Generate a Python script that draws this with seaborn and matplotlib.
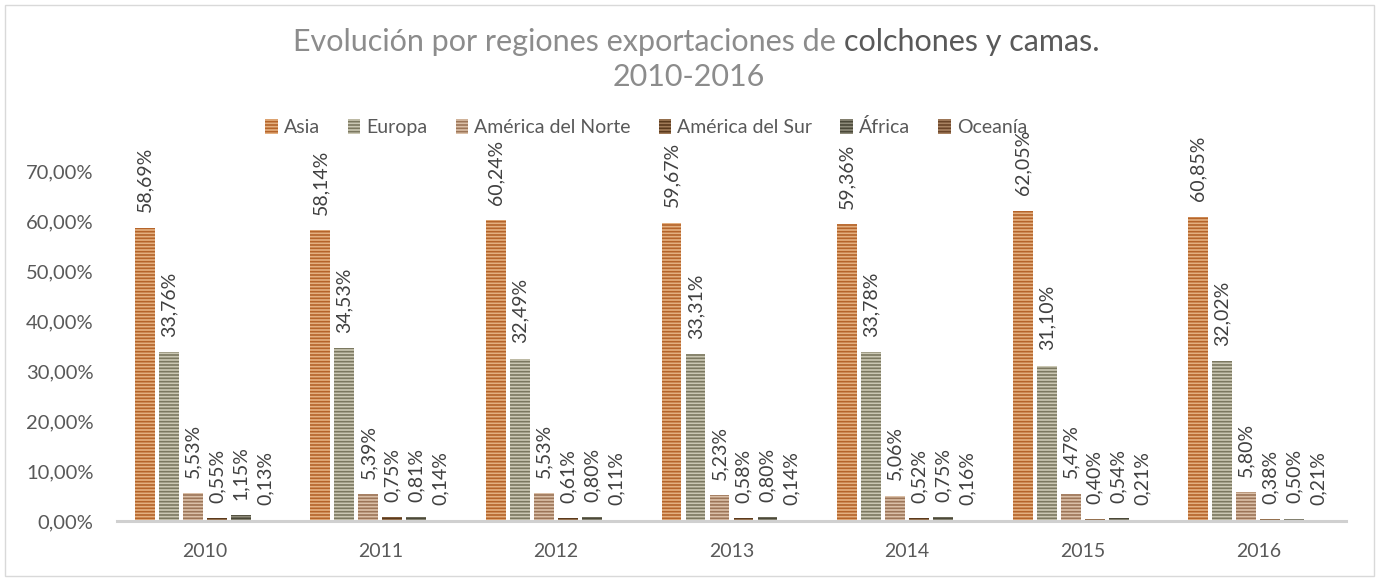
import matplotlib
matplotlib.use("Agg")
import matplotlib.pyplot as plt
import matplotlib.patches as mpatches
import pandas as pd
import seaborn as sns

years = ["2010", "2011", "2012", "2013", "2014", "2015", "2016"]
regions = ["Asia", "Europa", "América del Norte", "América del Sur", "África", "Oceanía"]

asia = [58.69, 58.14, 60.24, 59.67, 59.36, 62.05, 60.85]
europa = [33.76, 34.53, 32.49, 33.31, 33.78, 31.10, 32.02]
am_norte = [5.53, 5.39, 5.53, 5.23, 5.06, 5.47, 5.80]
am_sur = [0.55, 0.75, 0.61, 0.58, 0.52, 0.40, 0.38]
africa = [1.15, 0.81, 0.80, 0.80, 0.75, 0.54, 0.50]
oceania = [0.13, 0.14, 0.11, 0.14, 0.16, 0.21, 0.21]

# stripe (dark) and background (light) colour per region
dark = ["#B5642A", "#7B7860", "#9C7558", "#5A391C", "#4A4838", "#6A4428"]
light = ["#E4B080", "#CBC8B4", "#DBC0A8", "#A07A58", "#8E8B7A", "#A88262"]

series = [asia, europa, am_norte, am_sur, africa, oceania]
df = pd.DataFrame([
    {"year": y, "region": r, "value": v}
    for r, vals in zip(regions, series)
    for y, v in zip(years, vals)
])

sns.set_theme(style="white")
plt.rcParams["font.family"] = ["Lato", "DejaVu Sans"]
plt.rcParams["hatch.linewidth"] = 1.2

fig = plt.figure(figsize=(13.79, 5.81), dpi=100)
ax = fig.add_axes([117 / 1379, 60 / 581, 1229 / 1379, 381 / 581])

sns.barplot(data=df, x="year", y="value", hue="region", hue_order=regions,
            order=years, palette=dark, width=0.82, gap=0.17, errorbar=None,
            legend=False, ax=ax)

STRIPES = "-----"

for i, cont in enumerate(ax.containers):
    for bar in cont:
        bar.set_facecolor(light[i])
        bar.set_edgecolor(dark[i])
        bar.set_linewidth(0)
        bar.set_hatch(STRIPES)
    ax.bar_label(cont, labels=[f"{v:.2f}%".replace(".", ",") for v in series[i]],
                 rotation=90, padding=11, fontsize=14, color="#404040")

ax.set_xlim(-0.5, 6.5)
ax.set_ylim(0, 76.2)
ax.set_yticks(range(0, 80, 10))
ax.set_yticklabels([f"{t},00%" for t in range(0, 80, 10)])
ax.set_xlabel("")
ax.set_ylabel("")
ax.tick_params(axis="y", length=0, pad=17, labelsize=14.5, labelcolor="#595959")
ax.tick_params(axis="x", length=0, pad=16, labelsize=14, labelcolor="#595959")
for s in ["top", "right", "left"]:
    ax.spines[s].set_visible(False)
ax.spines["bottom"].set_color("#D0D0D0")
ax.spines["bottom"].set_linewidth(2.2)

# legend
handles = [mpatches.Patch(facecolor=light[i], edgecolor=dark[i], linewidth=0,
                          hatch=STRIPES, label=r) for i, r in enumerate(regions)]
fig.legend(handles=handles, loc="center", bbox_to_anchor=(646 / 1379, 1 - 127 / 581),
           ncol=6, frameon=False, fontsize=14, handlelength=0.65, handleheight=0.85,
           handletextpad=0.3, columnspacing=1.45, labelcolor="#595959")

# title: light part + darker part on the same line
renderer = fig.canvas.get_renderer()
t1 = fig.text(0, 1 - 42 / 581, "Evolución por regiones exportaciones de ", fontsize=22,
              color="#8C8C8C", va="center", ha="left")
t2 = fig.text(0, 1 - 42 / 581, "colchones y camas.", fontsize=22,
              color="#595959", va="center", ha="left")
w1 = t1.get_window_extent(renderer).width
w2 = t2.get_window_extent(renderer).width
x0 = 696 - (w1 + w2) / 2
t1.set_x(x0 / 1379)
t2.set_x((x0 + w1) / 1379)
fig.text(689 / 1379, 1 - 77 / 581, "2010-2016", fontsize=22,
         color="#8C8C8C", va="center", ha="center")

# outer chart border
fig.patches.append(mpatches.Rectangle((5 / 1379, 5 / 581), 1369 / 1379, 571 / 581,
                                      transform=fig.transFigure, fill=False,
                                      edgecolor="#D9D9D9", linewidth=1))

fig.savefig("out.png", dpi=100)
